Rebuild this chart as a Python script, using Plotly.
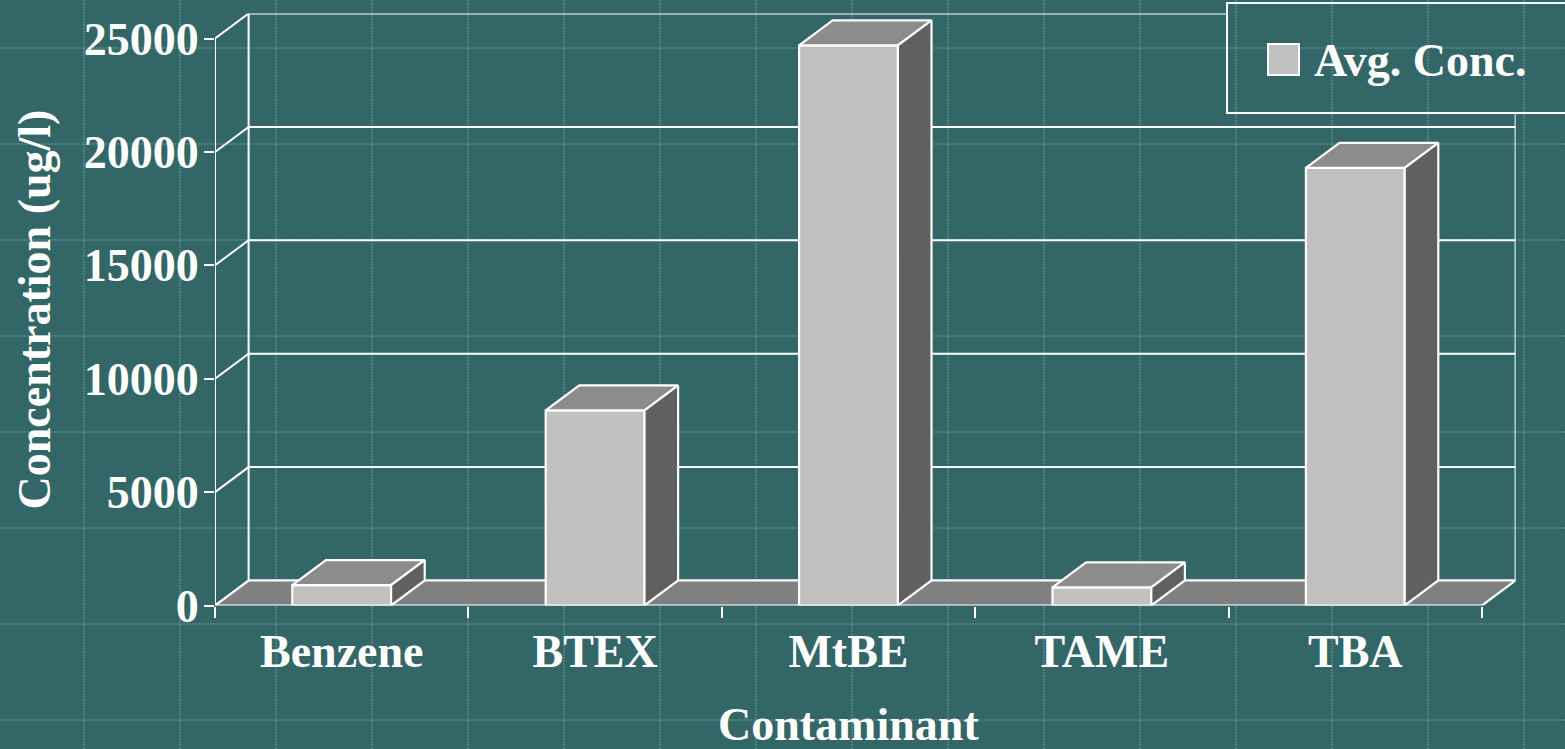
import plotly.graph_objects as go

# chart data
categories = ["Benzene", "BTEX", "MtBE", "TAME", "TBA"]
avg_conc = [900, 8600, 24700, 800, 19300]
y_ticks = [0, 5000, 10000, 15000, 20000, 25000]
series_name = "Avg. Conc."
x_title = "Contaminant"
y_title = "Concentration (ug/l)"

W, H = 1565, 749
BG = "#336666"
DOT = "#6a9c9c"
FRONT, TOP, SIDE, FLOOR = "#C0C0C0", "#8C8C8C", "#606060", "#808080"
FONT = "Liberation Serif, Times New Roman, serif"
FS = 46

# pixel geometry of the 3d box
X0_PX, CAT_PX = 215, 253.4
Y0_PX, PX_PER_UNIT = 605.5, 0.02268
DX = 33.6 / CAT_PX
DY = 25 / PX_PER_UNIT
YMAX = y_ticks[-1]
BAR_W = 0.39

n = len(categories)
x_range = [-0.5, n - 0.5 + DX]
y_range = [0, YMAX + DY]
x_dom = [X0_PX / W, (X0_PX + CAT_PX * (x_range[1] - x_range[0])) / W]
y_dom = [1 - Y0_PX / H, 1 - (Y0_PX - PX_PER_UNIT * y_range[1]) / H]

fig = go.Figure()


def lines(xs, ys, width=2):
    fig.add_trace(go.Scatter(x=xs, y=ys, mode="lines", line=dict(color="white", width=width),
                             hoverinfo="skip", showlegend=False))


def poly(xs, ys, fill):
    fig.add_trace(go.Scatter(x=xs + [xs[0]], y=ys + [ys[0]], mode="lines", fill="toself",
                             fillcolor=fill, line=dict(color="white", width=2.2),
                             hoverinfo="skip", showlegend=False))


# walls: back wall gridlines, side wall diagonals, edges
xl, xr = -0.5, n - 0.5
wx, wy = [], []
for v in y_ticks:
    wx += [xl, xl + DX, xr + DX, None]
    wy += [v, v + DY, v + DY, None]
wx += [xl + DX, xl + DX, None, xr + DX, xr + DX, None, xl, xl]
wy += [DY, YMAX + DY, None, DY, YMAX + DY, None, 0, YMAX]
lines(wx, wy)

# floor
poly([xl, xr, xr + DX, xl + DX], [0, 0, DY, DY], FLOOR)

# bars
for i, v in enumerate(avg_conc):
    a, b = i - BAR_W / 2, i + BAR_W / 2
    poly([a, b, b, a], [0, 0, v, v], FRONT)
    poly([a, b, b + DX, a + DX], [v, v, v + DY, v + DY], TOP)
    poly([b, b + DX, b + DX, b], [0, DY, v + DY, v], SIDE)

# slide background dotted grid
shapes = []
grid_x = [84 + 96 * k for k in range(16)]
grid_y = [48 + 96 * k for k in range(8)]
for gx in grid_x:
    shapes.append(dict(type="line", xref="paper", yref="paper", x0=gx / W, x1=gx / W, y0=0, y1=1,
                       line=dict(color=DOT, width=1, dash="2px,1px"), layer="below"))
for gy in grid_y:
    shapes.append(dict(type="line", xref="paper", yref="paper", x0=0, x1=1, y0=1 - gy / H, y1=1 - gy / H,
                       line=dict(color=DOT, width=1, dash="2px,1px"), layer="below"))

# legend box (drawn by hand so the swatch can match the slide)
lg = dict(x0=1227, x1=1575, y0=3, y1=113)
shapes.append(dict(type="rect", xref="paper", yref="paper", x0=lg["x0"] / W, x1=lg["x1"] / W,
                   y0=1 - lg["y1"] / H, y1=1 - lg["y0"] / H, fillcolor=BG,
                   line=dict(color="white", width=2), layer="above"))
for gx in grid_x:
    if lg["x0"] < gx < lg["x1"]:
        shapes.append(dict(type="line", xref="paper", yref="paper", x0=gx / W, x1=gx / W,
                           y0=1 - (lg["y1"] - 1) / H, y1=1 - (lg["y0"] + 1) / H,
                           line=dict(color=DOT, width=1, dash="2px,1px"), layer="above"))
for gy in grid_y:
    if lg["y0"] < gy < lg["y1"]:
        shapes.append(dict(type="line", xref="paper", yref="paper", x0=(lg["x0"] + 1) / W, x1=1,
                           y0=1 - gy / H, y1=1 - gy / H,
                           line=dict(color=DOT, width=1, dash="2px,1px"), layer="above"))
shapes.append(dict(type="rect", xref="paper", yref="paper", x0=1268 / W, x1=1299 / W,
                   y0=1 - 75 / H, y1=1 - 44 / H, fillcolor=FRONT,
                   line=dict(color="white", width=2), layer="above"))

font = dict(family=FONT, size=FS, color="white", weight="bold")
annotations = [
    dict(text=series_name, xref="paper", yref="paper", x=1312 / W, y=1 - 60.5 / H,
         xanchor="left", yanchor="middle", showarrow=False, font=font),
    dict(text=x_title, xref="x", yref="paper", x=(n - 1) / 2, y=1 - 724 / H,
         xanchor="center", yanchor="middle", showarrow=False, font=font),
    dict(text=y_title, xref="paper", yref="paper", x=34 / W, y=(y_dom[0] + y_dom[1]) / 2,
         xanchor="center", yanchor="middle", textangle=-90, showarrow=False, font=font),
]

fig.update_layout(
    width=W, height=H,
    margin=dict(l=0, r=0, t=0, b=0),
    paper_bgcolor=BG, plot_bgcolor="rgba(0,0,0,0)",
    showlegend=False,
    shapes=shapes,
    annotations=annotations,
    xaxis=dict(domain=x_dom, range=x_range, showgrid=False, zeroline=False, showline=False,
               automargin=False, fixedrange=True,
               tickvals=list(range(n)), ticktext=categories, ticks="", tickfont=font,
               ticklabelstandoff=14,
               minor=dict(tickvals=[i - 0.5 for i in range(n + 1)], ticks="outside",
                          ticklen=11, tickwidth=2, tickcolor="white", showgrid=False)),
    yaxis=dict(domain=y_dom, range=y_range, showgrid=False, zeroline=False, showline=False,
               automargin=False, fixedrange=True,
               tickvals=y_ticks, tickformat="d", ticks="outside", ticklen=10, tickwidth=2,
               tickcolor="white", tickfont=font, ticklabelstandoff=-4),
)

fig.write_html("out.html", config={"displayModeBar": False},
               post_script="document.body.style.margin='0';document.body.style.overflow='hidden';")
